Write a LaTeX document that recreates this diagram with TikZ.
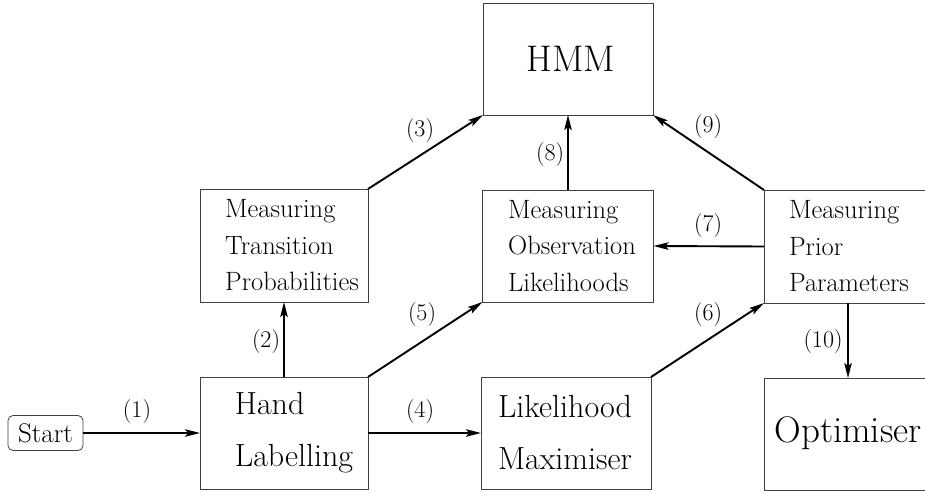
\documentclass[tikz,border=0pt]{standalone}
\usepackage{times}
\usetikzlibrary{arrows.meta}
\begin{document}
\begin{tikzpicture}[x=1pt,y=-1pt,
  box/.style={draw=black!75, line width=0.8pt, inner sep=0pt, outer sep=0pt},
  txt/.style={align=left, inner sep=0pt},
  midtxt/.style={txt, font=\rmfamily\fontsize{26.5}{36.5}\selectfont},
  bigtxt/.style={txt, font=\rmfamily\fontsize{32}{52}\selectfont},
  hugetxt/.style={txt, font=\rmfamily\fontsize{37}{40}\selectfont},
  conn/.style={line width=1.9pt, -{Stealth[length=15pt,width=7.5pt,inset=3pt]}},
  lab/.style={font=\rmfamily\fontsize{24}{24}\selectfont, inner sep=0pt}]
\useasboundingbox (0,0) rectangle (925,492);

% boxes
\node[box, minimum width=170, minimum height=112] (hmm) at (568,59) {};
\node[box, minimum width=168, minimum height=113] (mtp) at (284,245.5) {};
\node[box, minimum width=171, minimum height=112] (mol) at (568,246) {};
\node[box, minimum width=168, minimum height=113] (mpp) at (848,246.5) {};
\node[box, minimum width=168, minimum height=112] (hand) at (284,433) {};
\node[box, minimum width=170, minimum height=112] (lm) at (566,433) {};
\node[box, minimum width=168, minimum height=112] (opt) at (848,434) {};
\node[box, font=\rmfamily\fontsize{27}{27}\selectfont, rounded corners=5pt, minimum width=75, minimum height=35] (start) at (45.5,433) {Start};

% box texts
\node[hugetxt] (hmmt) at (571,59) {HMM};
\node[midtxt] (mtpt) at (292,245.5) {Measuring\\Transition\\Probabilities};
\node[midtxt] (molt) at (572,246) {Measuring\\Observation\\Likelihoods};
\node[midtxt] (mppt) at (849,246.5) {Measuring\\Prior\\Parameters};
\node[bigtxt] (handt) at (294,433) {Hand\\Labelling};
\node[bigtxt] (lmt) at (565,433) {Likelihood\\Maximiser};
\node[hugetxt] (optt) at (848,433) {Optimiser};

% connectors
\draw[conn] (start) -- (hand);
\draw[conn] (hand.north) -- (mtp.south);
\draw[conn] (mtp.north east) -- (hmm.south west);
\draw[conn] (hand) -- (lm);
\draw[conn] (hand.north east) -- (mol.south west);
\draw[conn] (lm.north east) -- (mpp.south west);
\draw[conn] (mpp.west) -- (mol.east);
\draw[conn] (mol.north) -- (hmm.south);
\draw[conn] (mpp.north west) -- (hmm.south east);
\draw[conn] (mpp.south) -- (opt.north);

% labels
\node[lab] (l1) at (137,412) {(1)};
\node[lab] (l2) at (266,342) {(2)};
\node[lab] (l3) at (420,131) {(3)};
\node[lab] (l4) at (420,412) {(4)};
\node[lab] (l5) at (422,315) {(5)};
\node[lab] (l6) at (708,315) {(6)};
\node[lab] (l7) at (708,226) {(7)};
\node[lab] (l8) at (550,155) {(8)};
\node[lab] (l9) at (708,127) {(9)};
\node[lab] (l10) at (823,342) {(10)};
\end{tikzpicture}
\end{document}
